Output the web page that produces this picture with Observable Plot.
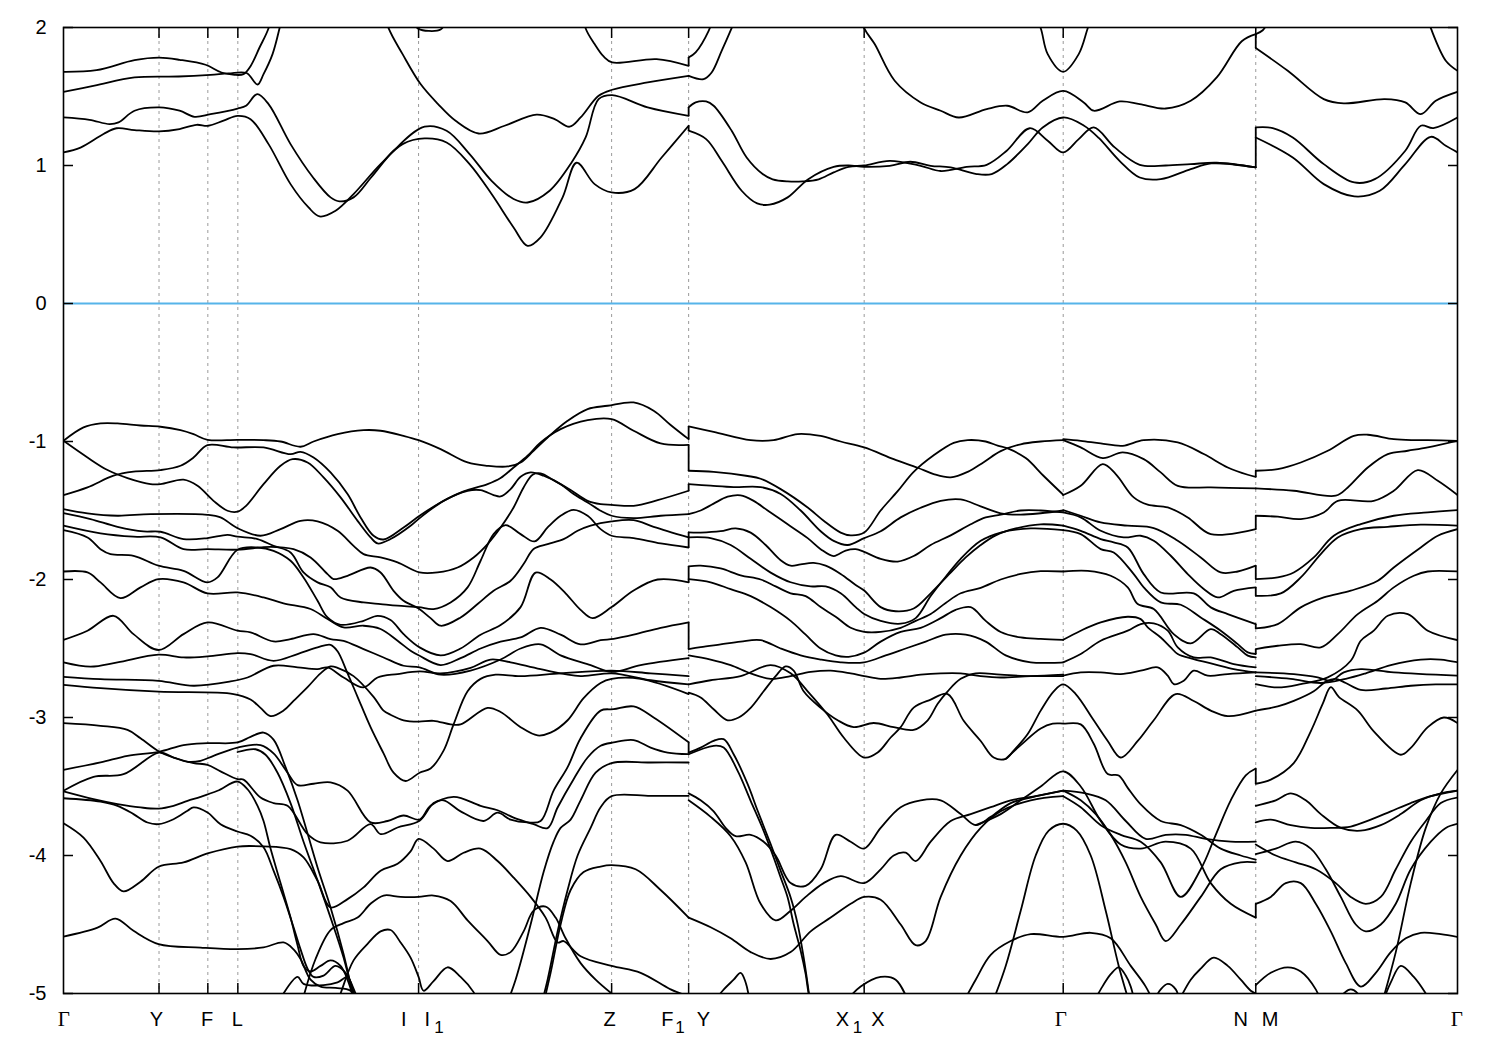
<!DOCTYPE html>
<html><head><meta charset="utf-8">
<script src="https://cdn.jsdelivr.net/npm/d3@7"></script>
<script src="https://cdn.jsdelivr.net/npm/@observablehq/plot@0.6"></script>
<style>body{margin:0;background:#fff;}</style>
</head><body><div id="chart"></div>
<script>
// high-symmetry points along the k-path (path coordinate, arbitrary units)
const kTicks = [63, 158.5, 207.3, 237.3, 418, 611, 688, 863.5, 1062.5, 1255, 1456.7];
// tick labels (k position of each label and its text; subscript "1" separately)
const xLabelK = [63.3, 156, 206.7, 236.7, 403.3, 426.7, 609, 666.7, 702.7, 841.7, 877.3, 1060, 1240, 1269.3, 1456];
const xLabelText = ["Γ", "Y", "F", "L", "I", "I", "Z", "F", "Y", "X", "X", "Γ", "N", "M", "Γ"];
const xSubK = [438.3, 679.3, 856.7];
const xSubText = ["1", "1", "1"];
const energyTicks = [-5, -4, -3, -2, -1, 0, 1, 2];
const kJumpF1Y = 688, kJumpNM = 1255;

// bands: flat lists k0,E0,k1,E1,... (E in eV)
const conductionGammaF1 = [
 [63,1.095, 80,1.13, 103,1.228, 116,1.27, 134,1.257, 158.5,1.247, 179,1.264, 196,1.295, 207.6,1.288, 223,1.325, 237,1.36, 250,1.336, 268,1.155, 290,0.865, 308,0.696, 319,0.631, 335,0.672, 353,0.793, 380,1.01, 402,1.155, 424,1.196, 446,1.167, 469,1.01, 491,0.793, 513,0.551, 527,0.418, 540,0.479, 562,0.769, 576,1.02, 594,0.865, 611,0.805, 634,0.829, 661,1.058, 688,1.288],
 [63,1.348, 89,1.331, 109,1.30, 118,1.312, 134,1.397, 158.5,1.421, 179,1.397, 194,1.353, 210,1.372, 237,1.413, 245.5,1.433, 256.7,1.517, 268,1.445, 290,1.155, 312.5,0.913, 330,0.769, 339,0.74, 353,0.769, 370.5,0.913, 393,1.107, 424,1.281, 446,1.252, 469,1.083, 491,0.889, 513,0.757, 527,0.732, 549,0.817, 571,1.022, 585,1.203, 598,1.481, 611.6,1.51, 647,1.421, 688,1.36],
 [63,1.534, 94,1.578, 134,1.638, 178,1.645, 210,1.657, 228,1.667, 246,1.67, 257,1.587, 263,1.662, 272,1.807, 279,1.995, 285,2.2],
 [63,1.679, 96,1.691, 134,1.763, 158.5,1.781, 179,1.766, 205,1.73, 221,1.674, 234,1.657, 243,1.662, 250,1.72, 259,1.855, 268,1.995, 275,2.2],
 [380,2.2, 388,1.995, 402,1.807, 420,1.59, 437.5,1.445, 455,1.324, 478,1.232, 504,1.288, 536,1.368, 554,1.336, 569,1.281, 580,1.348, 598,1.505, 611.6,1.549, 647,1.602, 688,1.65],
 [580,2.2, 585,1.995, 594,1.88, 603,1.79, 611.6,1.747, 656,1.771, 688,1.722],
 [410,2.05, 418,1.99, 428,1.975, 440,1.985, 446,2.05]
];
const conductionYN = [
 [688,1.783, 695,1.82, 708,1.976, 714,2.1],
 [688,1.65, 703,1.626, 711,1.674, 721,1.83, 731,1.995, 737,2.1],
 [688,1.421, 695,1.457, 705.5,1.464, 713,1.433, 731,1.252, 746,1.058, 762,0.938, 772,0.9, 787,0.885, 802,0.885, 818,0.9, 833,0.95, 848,0.99, 863.5,1.0, 889,1.034, 920,0.998, 940,0.96, 966,0.99, 986,1.005, 1006,1.107, 1029,1.27, 1047,1.18, 1062.5,1.095, 1078,1.191, 1093,1.276, 1114,1.131, 1139,1.005, 1165,1.0, 1190,1.01, 1216,1.02, 1255,0.986],
 [688,1.252, 705.5,1.191, 721,1.034, 741,0.817, 756.5,0.725, 769,0.716, 787,0.769, 807.6,0.901, 833,0.99, 848,1.0, 863.5,0.99, 889,0.998, 909.6,1.027, 930,0.998, 950,0.986, 976,0.938, 991,0.938, 1006.5,1.01, 1027,1.155, 1042,1.276, 1062.5,1.348, 1083,1.29, 1098,1.2, 1118.8,1.034, 1139,0.913, 1160,0.901, 1190,0.974, 1210.6,1.015, 1255,0.986],
 [855,2.2, 863.5,1.995, 874,1.88, 894,1.614, 920,1.457, 940,1.397, 958,1.348, 986,1.409, 1006.5,1.433, 1027,1.385, 1042,1.469, 1062.5,1.541, 1083,1.457, 1093,1.397, 1119,1.464, 1139,1.445, 1165,1.413, 1190,1.469, 1216,1.638, 1241,1.9, 1255,1.952],
 [1033,2.1, 1040,1.995, 1047,1.807, 1062.5,1.679, 1078,1.807, 1087,1.995, 1092,2.1]
];
const conductionMGamma = [
 [1255,1.952, 1262,1.98, 1268,2.05],
 [1255,1.851, 1287,1.686, 1323,1.481, 1343,1.45, 1384,1.481, 1404.5,1.457, 1420,1.372, 1435,1.469, 1456.7,1.534],
 [1255,1.276, 1272,1.271, 1292,1.203, 1323,1.01, 1353.5,0.877, 1374,0.901, 1404.5,1.107, 1420,1.288, 1432.6,1.271, 1456.7,1.348],
 [1255,1.203, 1292,1.058, 1323,0.865, 1353.5,0.776, 1379,0.817, 1404.5,1.01, 1430,1.208, 1445,1.143, 1456.7,1.095],
 [1425,2.1, 1430,1.995, 1445,1.759, 1456.7,1.686]
];
const valenceGammaF1 = [
 [63,-0.995, 83,-0.898, 100,-0.869, 117,-0.869, 140,-0.884, 160,-0.893, 180,-0.918, 193,-0.947, 207,-0.988, 237,-0.988, 263,-0.99, 280,-1.0, 300,-1.038, 313,-1.0, 337,-0.947, 363,-0.918, 380,-0.922, 403,-0.959, 418,-0.99, 440,-1.055, 467,-1.152, 487,-1.176, 507,-1.181, 520,-1.152, 533,-1.067, 547,-0.971, 567,-0.85, 587,-0.765, 607,-0.741, 633,-0.717, 653,-0.777, 670,-0.88, 688,-0.983],
 [63,-1.388, 87,-1.333, 113,-1.248, 133,-1.219, 160,-1.207, 180,-1.176, 193,-1.116, 207,-1.026, 233,-1.043, 263,-1.043, 290,-1.092, 300,-1.075, 313,-1.116, 330,-1.224, 347,-1.381, 360,-1.55, 373,-1.683, 383,-1.71, 403,-1.623, 419,-1.538, 440,-1.442, 463,-1.362, 487,-1.309, 500,-1.265, 513,-1.188, 527,-1.103, 540,-1.007, 560,-0.91, 587,-0.845, 611,-0.838, 633,-0.922, 660,-1.014, 688,-1.024],
 [63,-0.995, 87,-1.116, 107,-1.207, 127,-1.265, 150,-1.309, 160,-1.309, 183,-1.277, 197,-1.321, 213,-1.43, 227,-1.502, 237,-1.509, 245,-1.47, 263,-1.309, 280,-1.176, 292,-1.128, 307,-1.152, 323,-1.26, 340,-1.405, 357,-1.575, 370,-1.695, 377,-1.739, 390,-1.707, 410,-1.611, 419,-1.555, 443,-1.43, 467,-1.357, 480,-1.352, 493,-1.388, 500,-1.398, 510,-1.345, 520,-1.256, 530,-1.224, 543,-1.248, 560,-1.309, 573,-1.381, 587,-1.442, 600,-1.502, 611,-1.538, 633,-1.555, 660,-1.538, 688,-1.526],
 [63,-1.49, 87,-1.521, 117,-1.538, 150,-1.526, 207,-1.531, 220,-1.55, 237,-1.628, 260,-1.683, 280,-1.635, 300,-1.575, 317,-1.579, 337,-1.647, 353,-1.756, 363,-1.816, 380,-1.84, 397,-1.876, 419,-1.949, 437,-1.949, 457,-1.913, 473,-1.84, 487,-1.743, 500,-1.623, 513,-1.478, 523,-1.333, 532,-1.241, 540,-1.231, 553,-1.28, 570,-1.352, 587,-1.43, 600,-1.454, 611,-1.459, 633,-1.466, 657,-1.425, 688,-1.357],
 [63,-1.519, 90,-1.562, 117,-1.618, 143,-1.652, 160,-1.654, 183,-1.707, 207,-1.7, 227,-1.676, 237,-1.69, 257,-1.707, 273,-1.756, 290,-1.804, 303,-1.949, 317,-2.021, 330,-2.057, 340,-2.13, 363,-2.166, 380,-2.178, 397,-2.19, 418,-2.2, 433,-2.214, 450,-2.166, 467,-2.057, 480,-1.864, 493,-1.671, 505,-1.606, 520,-1.671, 534,-1.724, 547,-1.623, 560,-1.538, 573,-1.495, 587,-1.538, 600,-1.635, 611,-1.683, 633,-1.7, 660,-1.739, 688,-1.768],
 [63,-1.61, 100,-1.666, 133,-1.69, 160,-1.695, 183,-1.78, 207,-1.78, 237,-1.784, 270,-1.763, 293,-1.78, 310,-1.84, 327,-1.961, 333,-1.997, 347,-1.973, 370,-1.913, 380,-1.949, 393,-2.082, 403,-2.154, 418,-2.21, 430,-2.28, 440,-2.335, 460,-2.275, 477,-2.178, 493,-2.082, 510,-2.009, 523,-1.888, 533,-1.779, 547,-1.743, 563,-1.707, 577,-1.647, 590,-1.61, 611,-1.579, 633,-1.57, 653,-1.618, 688,-1.695],
 [63,-1.642, 87,-1.695, 100,-1.78, 110,-1.816, 133,-1.828, 158,-1.9, 183,-1.937, 207,-2.021, 217,-1.985, 237,-1.785, 257,-1.768, 273,-1.792, 290,-1.864, 303,-1.985, 317,-2.154, 327,-2.275, 340,-2.328, 363,-2.299, 377,-2.263, 390,-2.294, 403,-2.396, 419,-2.492, 440,-2.55, 460,-2.5, 480,-2.4, 500,-2.33, 520,-2.2, 535,-1.95, 550,-2.0, 565,-2.1, 580,-2.22, 592,-2.28, 611,-2.2, 633,-2.08, 657,-2.0, 688,-2.02],
 [63,-1.942, 87,-1.949, 100,-2.021, 120,-2.135, 140,-2.057, 158,-1.997, 183,-2.021, 207,-2.101, 237,-2.094, 263,-2.13, 283,-2.173, 310,-2.214, 327,-2.286, 343,-2.347, 363,-2.335, 380,-2.359, 397,-2.444, 410,-2.516, 419,-2.553, 440,-2.62, 460,-2.57, 480,-2.5, 500,-2.45, 520,-2.42, 540,-2.35, 560,-2.4, 580,-2.47, 600,-2.44, 613,-2.43, 633,-2.4, 660,-2.35, 688,-2.31],
 [63,-2.437, 87,-2.371, 113,-2.263, 133,-2.396, 158,-2.511, 183,-2.396, 207,-2.311, 237,-2.371, 250,-2.383, 273,-2.449, 290,-2.432, 313,-2.396, 330,-2.432, 343,-2.444, 363,-2.504, 383,-2.565, 403,-2.625, 419,-2.637, 440,-2.69, 470,-2.66, 500,-2.58, 520,-2.5, 540,-2.47, 560,-2.55, 590,-2.62, 611,-2.67, 640,-2.62, 688,-2.57],
 [63,-2.601, 90,-2.632, 117,-2.601, 158,-2.545, 183,-2.565, 207,-2.557, 237,-2.533, 250,-2.54, 273,-2.589, 297,-2.54, 317,-2.492, 330,-2.473, 337,-2.52, 347,-2.68, 357,-2.85, 370,-3.07, 383,-3.26, 393,-3.4, 405,-3.46, 419,-3.4, 430,-3.37, 443,-3.24, 453,-3.05, 467,-2.81, 480,-2.72, 495,-2.69, 520,-2.7, 560,-2.68, 611,-2.66, 650,-2.68, 688,-2.7],
 [63,-2.705, 100,-2.722, 158,-2.734, 193,-2.77, 230,-2.739, 247,-2.71, 273,-2.625, 297,-2.637, 317,-2.649, 327,-2.637, 343,-2.71, 363,-2.782, 377,-2.71, 397,-2.685, 419,-2.666, 440,-2.68, 470,-2.64, 490,-2.58, 510,-2.6, 540,-2.65, 580,-2.7, 611,-2.68, 650,-2.73, 688,-2.76],
 [63,-2.763, 100,-2.787, 158,-2.813, 233,-2.83, 250,-2.87, 260,-2.93, 270,-2.99, 283,-2.95, 293,-2.88, 307,-2.78, 320,-2.68, 330,-2.63, 337,-2.64, 353,-2.7, 373,-2.85, 383,-2.95, 390,-2.98, 403,-3.02, 418,-3.03, 433,-3.024, 450,-3.05, 460,-3.05, 487,-2.93, 500,-2.96, 520,-3.07, 537,-3.13, 550,-3.11, 567,-3.02, 583,-2.86, 600,-2.75, 611,-2.72, 640,-2.72, 688,-2.83],
 [63,-3.041, 100,-3.06, 127,-3.09, 140,-3.15, 158.5,-3.246, 173,-3.29, 193,-3.33, 207,-3.343, 220,-3.39, 237,-3.447, 243,-3.45, 260,-3.58, 273,-3.62, 287,-3.64, 307,-3.845, 320,-3.905, 347,-3.893, 370,-3.773, 380,-3.845, 397,-3.797, 419,-3.748, 433,-3.62, 443,-3.6, 460,-3.68, 483,-3.75, 497,-3.69, 510,-3.74, 527,-3.76, 540,-3.75, 553,-3.53, 567,-3.36, 580,-3.15, 600,-2.95, 613,-2.94, 633,-2.92, 653,-3.0, 688,-3.18],
 [63,-3.379, 100,-3.326, 127,-3.278, 158.5,-3.249, 183,-3.2, 207,-3.186, 237,-3.181, 250,-3.14, 263,-3.109, 273,-3.16, 285,-3.36, 297,-3.6, 317,-4.087, 330,-4.376, 343,-4.714, 352,-5.0, 358,-5.2],
 [63,-3.531, 93,-3.43, 123,-3.411, 158.5,-3.254, 173,-3.29, 187,-3.321, 200,-3.314, 213,-3.278, 237,-3.218, 260,-3.2, 273,-3.26, 287,-3.4, 297,-3.49, 313,-3.48, 330,-3.47, 347,-3.53, 370,-3.76, 387,-3.75, 403,-3.71, 419,-3.74, 430,-3.64, 453,-3.575, 480,-3.64, 497,-3.672, 513,-3.725, 533,-3.773, 547,-3.802, 557,-3.652, 573,-3.447, 587,-3.29, 600,-3.205, 613,-3.181, 633,-3.164, 650,-3.218, 667,-3.254, 688,-3.266],
 [237,-3.25, 255,-3.23, 265,-3.27, 277,-3.4, 290,-3.62, 303,-3.9, 317,-4.18, 330,-4.45, 343,-4.74, 352,-5.0, 358,-5.2],
 [63,-3.536, 93,-3.592, 117,-3.628, 140,-3.652, 158,-3.66, 173,-3.64, 187,-3.604, 200,-3.575, 217,-3.531, 237,-3.464, 247,-3.52, 257,-3.64, 263,-3.75, 270,-3.95, 280,-4.2, 290,-4.45, 297,-4.65, 303,-4.8, 310,-4.84, 320,-4.8, 330,-4.76, 340,-4.8, 348,-4.92, 355,-5.1],
 [63,-3.585, 100,-3.609, 117,-3.64, 133,-3.7, 147,-3.761, 158,-3.773, 173,-3.737, 187,-3.676, 193,-3.652, 207,-3.689, 220,-3.773, 237,-3.826, 250,-3.857, 263,-3.94, 273,-4.11, 283,-4.3, 293,-4.52, 300,-4.68, 307,-4.82, 313,-4.88, 323,-4.87, 335,-4.8, 345,-4.85, 355,-5.0, 360,-5.1],
 [63,-3.766, 83,-3.87, 100,-4.04, 113,-4.2, 123,-4.26, 140,-4.19, 158.5,-4.08, 183,-4.05, 207,-3.985, 237,-3.935, 263,-3.934, 290,-3.954, 303,-4.014, 317,-4.183, 330,-4.376, 347,-4.316, 363,-4.231, 380,-4.11, 397,-4.06, 410,-3.97, 418,-3.88, 433,-3.95, 447,-4.04, 463,-3.98, 480,-3.95, 497,-4.04, 513,-4.16, 530,-4.3, 545,-4.45, 557,-4.63, 563,-4.62, 580,-4.73, 611,-4.8, 640,-4.85, 670,-4.97, 688,-5.02],
 [63,-4.587, 97,-4.522, 115,-4.457, 133,-4.546, 158,-4.642, 200,-4.667, 237,-4.679, 263,-4.666, 283,-4.63, 293,-4.68, 300,-4.75, 310,-4.9, 320,-4.95, 335,-4.96, 350,-4.98, 360,-5.1],
 [330,-5.2, 340,-5.0, 353,-4.76, 367,-4.64, 380,-4.55, 390,-4.54, 400,-4.63, 410,-4.74, 418,-4.88, 423,-4.98, 433,-4.91, 447,-4.81, 460,-4.88, 473,-4.99, 480,-5.1],
 [270,-5.2, 283,-5.0, 297,-4.88, 303,-4.93, 323,-4.94, 337,-4.92, 347,-4.88, 353,-4.99, 358,-5.1],
 [300,-5.1, 315,-4.75, 330,-4.54, 343,-4.49, 357,-4.45, 370,-4.35, 383,-4.29, 400,-4.3, 418,-4.3, 433,-4.29, 450,-4.33, 467,-4.47, 487,-4.62, 500,-4.72, 510,-4.7, 523,-4.55, 533,-4.4, 545,-4.37, 555,-4.45, 565,-4.6, 580,-4.78, 595,-4.9, 611,-5.0, 630,-5.1],
 [505,-5.1, 515,-4.9, 530,-4.5, 543,-4.12, 553,-3.9, 560,-3.8, 570,-3.74, 580,-3.6, 595,-3.4, 611,-3.33, 650,-3.326, 688,-3.326],
 [540,-5.1, 547,-4.9, 557,-4.55, 567,-4.25, 577,-4.0, 590,-3.8, 600,-3.65, 611,-3.57, 650,-3.568, 688,-3.568],
 [542,-5.1, 550,-4.85, 560,-4.5, 570,-4.25, 583,-4.12, 600,-4.08, 611,-4.07, 635,-4.1, 660,-4.25, 688,-4.45]
];
const valenceYN = [
 [688,-0.891, 713,-0.93, 750,-0.99, 773,-0.99, 797,-0.946, 820,-0.96, 840,-1.0, 863.5,-1.043, 893,-1.128, 917,-1.19, 933,-1.236, 950,-1.26, 967,-1.22, 983,-1.15, 1000,-1.07, 1020,-1.02, 1040,-1.0, 1062.5,-0.99],
 [688,-1.212, 713,-1.22, 747,-1.25, 760,-1.27, 780,-1.345, 807,-1.478, 823,-1.574, 840,-1.66, 850,-1.68, 863.5,-1.66, 880,-1.5, 897,-1.36, 913,-1.22, 933,-1.1, 953,-1.01, 967,-0.99, 985,-1.0, 997,-1.03, 1007,-1.05, 1025,-1.12, 1043,-1.25, 1062.5,-1.386],
 [688,-1.309, 710,-1.32, 733,-1.33, 760,-1.33, 780,-1.38, 800,-1.5, 820,-1.65, 833,-1.72, 847,-1.75, 863.5,-1.7, 880,-1.65, 900,-1.55, 920,-1.48, 940,-1.43, 960,-1.42, 980,-1.47, 1000,-1.52, 1020,-1.53, 1040,-1.52, 1062.5,-1.5],
 [688,-1.526, 700,-1.5, 713,-1.45, 727,-1.4, 740,-1.39, 753,-1.43, 767,-1.5, 787,-1.6, 807,-1.7, 820,-1.78, 833,-1.83, 845,-1.79, 855,-1.78, 863.5,-1.8, 880,-1.85, 897,-1.87, 913,-1.83, 930,-1.75, 950,-1.68, 970,-1.6, 985,-1.55, 1000,-1.53, 1020,-1.5, 1040,-1.5, 1062.5,-1.514],
 [688,-1.659, 700,-1.66, 720,-1.65, 735,-1.63, 750,-1.66, 765,-1.75, 780,-1.86, 790,-1.9, 800,-1.89, 813,-1.88, 825,-1.9, 840,-1.96, 855,-2.04, 863.5,-2.08, 880,-2.2, 895,-2.23, 913,-2.21, 930,-2.1, 950,-1.95, 965,-1.84, 980,-1.75, 995,-1.68, 1015,-1.63, 1040,-1.6, 1062.5,-1.61],
 [688,-1.695, 710,-1.7, 730,-1.75, 750,-1.85, 770,-1.95, 790,-2.02, 810,-2.05, 825,-2.05, 840,-2.1, 855,-2.2, 863.5,-2.25, 880,-2.3, 900,-2.32, 915,-2.28, 930,-2.12, 945,-1.98, 960,-1.85, 980,-1.72, 1000,-1.66, 1030,-1.63, 1062.5,-1.642],
 [688,-1.905, 700,-1.9, 720,-1.92, 740,-1.97, 760,-2.0, 775,-2.05, 790,-2.1, 805,-2.12, 820,-2.2, 835,-2.27, 850,-2.35, 863.5,-2.38, 880,-2.38, 900,-2.35, 915,-2.3, 930,-2.25, 945,-2.17, 960,-2.1, 980,-2.06, 1000,-2.0, 1020,-1.96, 1040,-1.94, 1062.5,-1.942],
 [688,-1.997, 710,-2.02, 730,-2.07, 750,-2.12, 770,-2.2, 790,-2.3, 805,-2.4, 820,-2.5, 835,-2.55, 848,-2.56, 863.5,-2.53, 880,-2.45, 900,-2.38, 920,-2.35, 940,-2.28, 955,-2.22, 970,-2.2, 985,-2.3, 1000,-2.38, 1020,-2.42, 1040,-2.43, 1062.5,-2.437],
 [688,-2.504, 700,-2.49, 720,-2.47, 740,-2.45, 760,-2.44, 780,-2.5, 800,-2.55, 820,-2.58, 840,-2.6, 863.5,-2.6, 885,-2.55, 905,-2.5, 925,-2.45, 945,-2.4, 965,-2.4, 985,-2.45, 1005,-2.55, 1030,-2.6, 1062.5,-2.6],
 [688,-2.55, 710,-2.58, 730,-2.62, 750,-2.68, 770,-2.72, 790,-2.7, 810,-2.67, 830,-2.66, 850,-2.68, 863.5,-2.7, 880,-2.72, 900,-2.71, 920,-2.69, 940,-2.68, 960,-2.68, 980,-2.7, 1000,-2.71, 1030,-2.7, 1062.5,-2.7],
 [688,-2.82, 700,-2.855, 713,-2.94, 727,-3.02, 738,-3.0, 750,-2.93, 763,-2.81, 775,-2.7, 785,-2.63, 793,-2.66, 803,-2.81, 820,-2.93, 837,-3.02, 853,-3.07, 873,-3.04, 893,-3.07, 913,-3.09, 927,-3.02, 937,-2.9, 947,-2.81, 960,-2.72, 975,-2.68, 1000,-2.69, 1030,-2.7, 1062.5,-2.69],
 [688,-2.76, 710,-2.73, 740,-2.7, 770,-2.62, 790,-2.68, 807,-2.81, 827,-2.98, 843,-3.145, 863.5,-3.29, 877,-3.254, 890,-3.145, 900,-3.07, 913,-2.928, 930,-2.87, 947,-2.83, 963,-3.024, 980,-3.17, 993,-3.29, 1005,-3.3, 1013,-3.24, 1027,-3.12, 1040,-2.95, 1053,-2.81, 1062.5,-2.76, 1075,-2.83, 1093,-3.02, 1107,-3.17, 1120,-3.29, 1137,-3.17, 1153,-3.02, 1175,-2.83, 1193,-2.88, 1210,-2.95, 1227,-2.99, 1255,-2.95],
 [688,-3.254, 700,-3.218, 713,-3.169, 723,-3.157, 733,-3.266, 747,-3.483, 757,-3.676, 770,-3.918, 780,-4.111, 790,-4.304, 797,-4.497, 803,-4.739, 807,-4.932, 810,-5.1],
 [688,-3.266, 713,-3.205, 723,-3.217, 737,-3.387, 750,-3.604, 763,-3.821, 773,-4.014, 780,-4.159, 787,-4.304, 793,-4.497, 800,-4.69, 805,-4.86, 808,-5.0, 812,-5.1],
 [688,-3.55, 700,-3.6, 713,-3.68, 725,-3.8, 735,-3.86, 750,-3.85, 763,-3.9, 775,-4.0, 790,-4.2, 805,-4.22, 820,-4.1, 835,-3.85, 850,-3.9, 863.5,-3.95, 880,-3.8, 900,-3.65, 920,-3.6, 940,-3.6, 960,-3.7, 975,-3.78, 990,-3.72, 1010,-3.62, 1030,-3.58, 1062.5,-3.53],
 [688,-3.6, 710,-3.72, 730,-3.86, 745,-4.05, 760,-4.35, 775,-4.47, 790,-4.4, 805,-4.3, 823,-4.2, 840,-4.15, 863.5,-4.2, 880,-4.1, 893,-4.0, 905,-3.98, 915,-4.04, 930,-3.9, 950,-3.75, 970,-3.7, 990,-3.65, 1010,-3.6, 1035,-3.57, 1062.5,-3.53],
 [688,-4.45, 710,-4.52, 730,-4.6, 750,-4.7, 770,-4.75, 790,-4.7, 810,-4.55, 830,-4.45, 850,-4.35, 863.5,-4.3, 880,-4.32, 900,-4.5, 915,-4.65, 925,-4.62, 940,-4.3, 960,-4.0, 980,-3.8, 1000,-3.68, 1030,-3.6, 1062.5,-3.57],
 [960,-5.1, 975,-4.9, 990,-4.72, 1010,-4.62, 1030,-4.57, 1062.5,-4.59, 1090,-4.56, 1110,-4.6, 1130,-4.8, 1145,-4.95, 1155,-5.1],
 [990,-5.1, 1005,-4.8, 1020,-4.4, 1035,-4.0, 1048,-3.82, 1062.5,-3.77, 1076,-3.82, 1090,-4.0, 1105,-4.4, 1118,-4.8, 1130,-5.1],
 [975,-3.78, 1000,-3.7, 1020,-3.6, 1040,-3.5, 1062.5,-3.39, 1080,-3.5, 1100,-3.75, 1120,-3.92, 1140,-3.95, 1165,-3.9, 1190,-3.95, 1210,-4.2, 1230,-4.35, 1255,-4.45],
 [1005,-3.3, 1020,-3.2, 1040,-3.08, 1052,-3.045, 1062.5,-3.044, 1080,-3.05, 1093,-3.19, 1107,-3.41, 1118,-3.42, 1127,-3.51, 1140,-3.63, 1160,-3.75, 1180,-3.78, 1200,-3.85, 1220,-3.95, 1240,-4.0, 1255,-4.03],
 [710,-5.1, 722,-4.98, 733,-4.9, 740,-4.85, 745,-4.92, 750,-5.1],
 [840,-5.1, 860,-4.95, 880,-4.88, 895,-4.9, 910,-5.1],
 [1090,-5.1, 1100,-4.97, 1110,-4.86, 1118,-4.81, 1125,-4.87, 1130,-4.95, 1135,-5.1],
 [1150,-5.1, 1160,-4.97, 1167,-4.93, 1175,-4.97, 1180,-5.1],
 [1175,-5.1, 1190,-4.9, 1200,-4.82, 1213,-4.74, 1227,-4.8, 1240,-4.9, 1250,-4.98, 1255,-5.0],
 [1062.5,-3.57, 1080,-3.65, 1100,-3.78, 1120,-3.85, 1140,-3.9, 1160,-4.05, 1180,-4.3, 1200,-4.1, 1215,-3.85, 1230,-3.6, 1245,-3.42, 1255,-3.37],
 [1062.5,-3.53, 1085,-3.55, 1105,-3.6, 1125,-3.75, 1145,-3.88, 1165,-3.85, 1185,-3.85, 1205,-3.88, 1230,-3.9, 1255,-3.9],
 [1062.5,-3.53, 1080,-3.6, 1095,-3.7, 1110,-3.85, 1125,-4.05, 1140,-4.3, 1155,-4.5, 1165,-4.62, 1180,-4.5, 1200,-4.3, 1220,-4.1, 1240,-4.05, 1255,-4.05],
 [1062.5,-0.983, 1080,-0.995, 1100,-1.014, 1122,-1.031, 1143,-0.99, 1177,-1.007, 1203,-1.091, 1227,-1.188, 1247,-1.241, 1255,-1.256],
 [1062.5,-0.99, 1080,-1.043, 1102,-1.12, 1122,-1.079, 1143,-1.128, 1160,-1.224, 1177,-1.321, 1210,-1.333, 1255,-1.34],
 [1062.5,-1.388, 1080,-1.321, 1102,-1.164, 1115,-1.236, 1133,-1.405, 1147,-1.458, 1167,-1.478, 1187,-1.55, 1210,-1.671, 1255,-1.635],
 [1062.5,-1.497, 1080,-1.538, 1100,-1.586, 1127,-1.61, 1153,-1.627, 1177,-1.719, 1200,-1.84, 1220,-1.949, 1237,-1.942, 1255,-1.9],
 [1062.5,-1.514, 1080,-1.55, 1100,-1.647, 1123,-1.695, 1140,-1.683, 1153,-1.719, 1170,-1.828, 1187,-1.961, 1203,-2.069, 1217,-2.13, 1233,-2.082, 1255,-2.057],
 [1062.5,-1.61, 1080,-1.647, 1100,-1.707, 1113,-1.731, 1127,-1.768, 1143,-1.961, 1160,-2.094, 1193,-2.101, 1210,-2.202, 1227,-2.251, 1255,-2.323],
 [1062.5,-1.642, 1080,-1.671, 1100,-1.78, 1113,-1.804, 1133,-1.961, 1143,-2.057, 1160,-2.166, 1180,-2.183, 1200,-2.275, 1220,-2.371, 1237,-2.468, 1247,-2.528, 1255,-2.54],
 [1062.5,-1.942, 1087,-1.937, 1110,-1.973, 1127,-2.057, 1137,-2.178, 1153,-2.214, 1173,-2.396, 1190,-2.463, 1210,-2.359, 1220,-2.396, 1237,-2.492, 1247,-2.552, 1255,-2.565],
 [1062.5,-2.437, 1080,-2.371, 1100,-2.311, 1127,-2.27, 1140,-2.287, 1147,-2.347, 1160,-2.42, 1170,-2.492, 1177,-2.54, 1193,-2.577, 1213,-2.613, 1233,-2.649, 1255,-2.673],
 [1062.5,-2.6, 1080,-2.54, 1100,-2.444, 1127,-2.371, 1140,-2.323, 1153,-2.318, 1167,-2.371, 1177,-2.492, 1193,-2.565, 1210,-2.565, 1233,-2.613, 1255,-2.637],
 [1062.5,-2.697, 1080,-2.673, 1100,-2.673, 1120,-2.685, 1140,-2.661, 1157,-2.637, 1167,-2.697, 1173,-2.758, 1183,-2.734, 1193,-2.661, 1207,-2.697, 1227,-2.685, 1255,-2.673]
];
const valenceMGamma = [
 [1255,-1.212, 1277,-1.2, 1300,-1.152, 1327,-1.067, 1353,-0.959, 1367,-0.951, 1393,-0.983, 1413,-0.99, 1427,-0.99, 1456.7,-0.995],
 [1255,-1.34, 1293,-1.357, 1335,-1.393, 1347,-1.333, 1367,-1.188, 1387,-1.091, 1407,-1.067, 1427,-1.043, 1456.7,-0.995],
 [1255,-1.538, 1277,-1.545, 1300,-1.562, 1323,-1.514, 1337,-1.43, 1373,-1.43, 1393,-1.357, 1417,-1.207, 1437,-1.285, 1456.7,-1.388],
 [1255,-1.997, 1277,-1.985, 1293,-1.949, 1313,-1.84, 1333,-1.683, 1360,-1.598, 1393,-1.538, 1427,-1.514, 1456.7,-1.497],
 [1255,-2.118, 1280,-2.101, 1300,-1.985, 1320,-1.816, 1337,-1.695, 1360,-1.635, 1387,-1.618, 1420,-1.603, 1456.7,-1.61],
 [1255,-2.354, 1277,-2.323, 1300,-2.202, 1323,-2.13, 1350,-2.081, 1377,-2.009, 1393,-1.913, 1420,-1.768, 1437,-1.683, 1456.7,-1.635],
 [1255,-2.504, 1277,-2.48, 1300,-2.468, 1320,-2.492, 1337,-2.396, 1357,-2.251, 1377,-2.154, 1393,-2.057, 1413,-1.973, 1427,-1.942, 1456.7,-1.942],
 [1255,-2.673, 1293,-2.685, 1317,-2.709, 1330,-2.734, 1343,-2.673, 1360,-2.649, 1393,-2.673, 1456.7,-2.697],
 [1255,-2.758, 1277,-2.782, 1300,-2.758, 1327,-2.709, 1350,-2.589, 1360,-2.444, 1373,-2.371, 1387,-2.263, 1407,-2.251, 1427,-2.371, 1456.7,-2.439],
 [1255,-2.7, 1290,-2.72, 1320,-2.75, 1345,-2.72, 1365,-2.68, 1390,-2.62, 1420,-2.58, 1440,-2.58, 1456.7,-2.6],
 [1255,-3.48, 1270,-3.45, 1293,-3.33, 1310,-3.1, 1322,-2.9, 1330,-2.78, 1338,-2.85, 1357,-2.95, 1373,-3.1, 1400,-3.27, 1410,-3.22, 1427,-3.07, 1443,-3.0, 1456.7,-3.04],
 [1255,-2.95, 1277,-2.92, 1293,-2.88, 1313,-2.81, 1325,-2.74, 1335,-2.72, 1345,-2.75, 1360,-2.8, 1385,-2.79, 1410,-2.77, 1435,-2.76, 1456.7,-2.76],
 [1255,-3.64, 1275,-3.6, 1290,-3.55, 1305,-3.6, 1320,-3.7, 1340,-3.8, 1360,-3.82, 1380,-3.78, 1400,-3.7, 1420,-3.6, 1440,-3.55, 1456.7,-3.53],
 [1255,-3.76, 1270,-3.74, 1290,-3.78, 1310,-3.8, 1330,-3.8, 1350,-3.79, 1370,-3.74, 1390,-3.68, 1410,-3.62, 1430,-3.57, 1456.7,-3.53],
 [1255,-3.92, 1275,-4.0, 1295,-4.05, 1315,-4.1, 1335,-4.2, 1350,-4.3, 1365,-4.35, 1380,-4.3, 1395,-4.1, 1410,-3.9, 1425,-3.75, 1440,-3.62, 1456.7,-3.58],
 [1255,-3.99, 1275,-3.95, 1295,-3.9, 1310,-3.95, 1325,-4.1, 1340,-4.3, 1355,-4.5, 1365,-4.55, 1380,-4.5, 1395,-4.35, 1410,-4.1, 1430,-3.9, 1445,-3.8, 1456.7,-3.77],
 [1255,-4.35, 1270,-4.3, 1285,-4.2, 1300,-4.2, 1315,-4.35, 1330,-4.55, 1345,-4.78, 1360,-4.95, 1375,-4.85, 1390,-4.7, 1405,-4.6, 1420,-4.56, 1440,-4.57, 1456.7,-4.59],
 [1255,-4.94, 1270,-4.85, 1287,-4.81, 1300,-4.84, 1315,-4.97, 1322,-5.1],
 [1335,-5.1, 1343,-5.0, 1350,-4.97, 1357,-5.0, 1363,-5.1],
 [1380,-5.1, 1390,-4.92, 1400,-4.8, 1413,-4.88, 1425,-5.0, 1433,-5.1],
 [1380,-5.1, 1395,-4.7, 1410,-4.2, 1425,-3.8, 1440,-3.55, 1456.7,-3.38]
];
// discontinuities drawn as vertical connectors: [energy before, energy after]
const jumpsF1Y = [[1.722,1.783],[1.36,1.421],[1.288,1.252],[-0.983,-0.891],[-1.024,-1.212],[-1.357,-1.309],[-1.695,-1.659],[-1.768,-1.695],[-2.02,-1.905],[-2.31,-2.504],[-3.18,-3.254]];
const jumpsNM = [[0.986,1.276],[1.952,1.851],[-1.256,-1.212],[-1.635,-1.538],[-1.9,-1.997],[-2.057,-2.118],[-2.323,-2.354],[-2.54,-2.504],[-3.37,-3.48],[-4.45,-4.35]];

const groups = {conductionGammaF1, conductionYN, conductionMGamma, valenceGammaF1, valenceYN, valenceMGamma};
const rows = [];
for (const [name, lines] of Object.entries(groups)) {
  lines.forEach((arr, i) => {
    for (let j = 0; j < arr.length; j += 2) rows.push({k: arr[j], e: arr[j + 1], id: name + i});
  });
}
const jumps = [
  ...jumpsF1Y.map(([a, b]) => ({k: kJumpF1Y, a, b})),
  ...jumpsNM.map(([a, b]) => ({k: kJumpNM, a, b}))
];
const labels = xLabelK.map((k, i) => ({k, text: xLabelText[i]}));
const subs = xSubK.map((k, i) => ({k, text: xSubText[i]}));
const innerTicks = kTicks.slice(1, -1);
const sans = "'Liberation Sans', Arial, sans-serif";
const serif = "'Liberation Serif', 'DejaVu Serif', serif";

const chart = Plot.plot({
  width: 1500, height: 1050,
  marginLeft: 63, marginRight: 43, marginTop: 27, marginBottom: 57,
  x: {domain: [63, 1456.7]},
  y: {domain: [-5, 2]},
  style: {fontFamily: sans, fontSize: "20px", background: "white", color: "black"},
  marks: [
    Plot.ruleX(innerTicks, {stroke: "#9a9a9a", strokeWidth: 1, strokeDasharray: "3,4"}),
    Plot.ruleY([0], {stroke: "#56b4e9", strokeWidth: 1.8}),
    Plot.line(rows, {x: "k", y: "e", z: "id", curve: "catmull-rom", stroke: "black", strokeWidth: 1.8, clip: true}),
    Plot.link(jumps, {x1: "k", x2: "k", y1: "a", y2: "b", stroke: "black", strokeWidth: 1.8, clip: true}),
    Plot.frame({stroke: "black", strokeWidth: 1.6}),
    Plot.axisY(energyTicks, {anchor: "left", tickSize: -10, fill: "none", label: null, strokeWidth: 1.5}),
    Plot.axisY(energyTicks, {anchor: "right", tickSize: -10, fill: "none", label: null, strokeWidth: 1.5}),
    Plot.axisY(energyTicks, {anchor: "left", tickSize: 0, tickPadding: 17, label: null, tickFormat: d => String(d), fontSize: 20}),
    Plot.axisX(innerTicks, {anchor: "bottom", tickSize: -10, fill: "none", label: null, strokeWidth: 1.5}),
    Plot.axisX(innerTicks, {anchor: "top", tickSize: -10, fill: "none", label: null, strokeWidth: 1.5}),
    Plot.text(labels.filter(d => d.text !== "Γ"), {x: "k", text: "text", frameAnchor: "bottom", dy: 32, fontSize: 20, fontFamily: sans, fill: "black"}),
    Plot.text(labels.filter(d => d.text === "Γ"), {x: "k", text: "text", frameAnchor: "bottom", dy: 32, fontSize: 21, fontFamily: serif, fill: "black"}),
    Plot.text(subs, {x: "k", text: "text", frameAnchor: "bottom", dy: 39, fontSize: 17, fontFamily: sans, fill: "black"})
  ]
});
document.getElementById("chart").appendChild(chart);
</script>
</body></html>
